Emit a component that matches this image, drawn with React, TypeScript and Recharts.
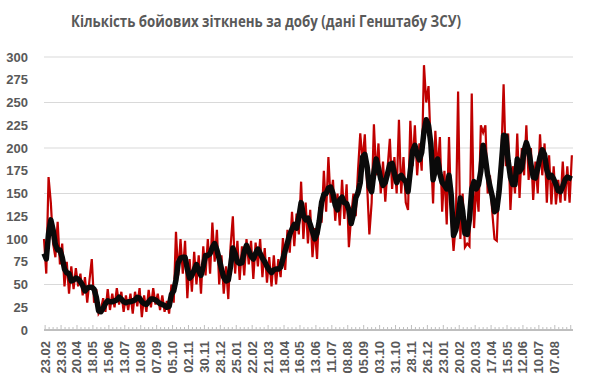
import { LineChart, Line, XAxis, YAxis, CartesianGrid } from "recharts";

// one value every 4 days, starting 23.02
const STEP = 4;

const LABELS = [
  "23.02", "23.03", "20.04", "18.05", "15.06", "13.07", "10.08", "07.09", "05.10",
  "02.11", "30.11", "28.12", "25.01", "22.02", "21.03", "18.04", "16.05", "13.06",
  "11.07", "08.08", "05.09", "03.10", "31.10", "28.11", "26.12", "23.01", "20.02",
  "20.03", "17.04", "15.05", "12.06", "10.07", "07.08",
];

const Y_TICKS = [0, 25, 50, 75, 100, 125, 150, 175, 200, 225, 250, 275, 300];

// daily number of clashes (red)
const DAILY = [
  100, 62, 168, 140, 95, 80, 119,
  72, 95, 48, 75, 40, 70, 45,
  68, 48, 62, 38, 58, 30, 55,
  78, 30, 45, 18, 22, 35, 20,
  45, 22, 40, 25, 46, 28, 42,
  20, 38, 22, 40, 18, 42, 26,
  46, 14, 38, 20, 44, 25, 46,
  28, 40, 22, 38, 20, 32, 18,
  50, 30, 108, 60, 100, 62, 98,
  35, 78, 42, 86, 50, 82, 40,
  92, 60, 100, 62, 118, 75, 110,
  50, 82, 40, 70, 34, 92, 125,
  62, 98, 55, 92, 60, 100, 72,
  98, 56, 96, 70, 100, 58, 90,
  52, 80, 48, 82, 50, 78, 58,
  101, 66, 110, 85, 130, 92, 128,
  105, 163, 100, 140, 95, 132, 80,
  112, 78, 135, 118, 175, 130, 190,
  140, 165, 120, 150, 115, 165, 122,
  160, 91, 125, 150, 125, 175, 216,
  185, 215, 160, 105, 140, 226, 170,
  205, 150, 185, 141, 178, 210, 155,
  190, 150, 231, 150, 190, 140, 132,
  230, 180, 225, 170, 205, 175, 291,
  250, 268, 200, 139, 219, 175, 212,
  130, 175, 116, 212, 125, 87, 118,
  262, 100, 150, 91, 95, 92, 260,
  112, 160, 130, 225, 217, 225, 150,
  170, 130, 100, 98, 165, 190, 270,
  180, 216, 132, 180, 150, 216, 145,
  200, 170, 225, 165, 200, 143, 185,
  150, 215, 170, 205, 140, 192, 138,
  180, 138, 165, 140, 185, 142, 180,
  140, 192,
];

// smoothed line (black)
const AVG = [
  84, 78, 106, 121, 110, 94, 88,
  88, 80, 67, 63, 62, 54, 55,
  57, 56, 53, 49, 43, 46, 47,
  47, 45, 36, 21, 20, 24, 29,
  32, 31, 31, 32, 33, 36, 34,
  31, 30, 31, 31, 32, 33, 36,
  35, 31, 29, 28, 31, 34, 34,
  33, 31, 29, 28, 27, 25, 26,
  39, 43, 55, 74, 79, 80, 80,
  67, 57, 60, 66, 72, 65, 60,
  70, 82, 82, 84, 91, 95, 88,
  78, 67, 58, 54, 55, 70, 90,
  84, 75, 73, 74, 86, 93, 87,
  81, 78, 84, 89, 84, 79, 75,
  70, 66, 63, 66, 67, 67, 69,
  78, 87, 96, 105, 111, 116, 112,
  124, 140, 126, 121, 123, 116, 108,
  100, 106, 120, 140, 149, 150, 156,
  157, 150, 137, 132, 143, 146, 140,
  139, 132, 117, 127, 145, 151, 162,
  190, 193, 180, 157, 152, 173, 188,
  178, 166, 159, 162, 172, 182, 183,
  172, 162, 168, 170, 166, 163, 152,
  175, 197, 203, 193, 187, 195, 218,
  231, 225, 205, 165, 176, 188, 172,
  162, 159, 155, 170, 148, 104, 110,
  123, 145, 131, 106, 105, 122, 155,
  163, 155, 160, 175, 203, 189, 170,
  158, 147, 130, 132, 152, 182, 214,
  213, 186, 168, 160, 160, 188, 174,
  178, 197, 206, 198, 182, 168, 167,
  178, 190, 198, 193, 176, 168, 170,
  166, 160, 153, 152, 158, 165, 168,
  167, 166,
];

const FIRST_DAY = 2;
const MINOR = 7;
const X_TICKS = Array.from({ length: 133 }, (_, k) => FIRST_DAY + k * MINOR);

const data = AVG.map((a, i) => ({ day: i * STEP, daily: DAILY[i], avg: a }));

const FONT = '"Liberation Sans", Arial, sans-serif';

function DayTick({ x, y, payload }: any) {
  const k = Math.round((payload.value - FIRST_DAY) / MINOR);
  const major = k % 4 === 0;
  const label = major ? LABELS[k / 4] : null;
  return (
    <g>
      <line x1={x} x2={x} y1={y - 1} y2={y - (major ? 5 : 3)} stroke="#bfbfbf" strokeWidth={1} />
      {label && (
        <text
          transform={`translate(${x},${y + 11}) rotate(-90)`}
          textAnchor="end"
          dominantBaseline="central"
          fontFamily={FONT}
          fontSize={13}
          fontWeight="bold"
          fill="#595959"
        >
          {label}
        </text>
      )}
    </g>
  );
}

export default function App() {
  return (
    <div style={{ position: "absolute", left: 0, top: 0, width: 590, height: 375, background: "#fff" }}>
      <svg width={590} height={40} style={{ position: "absolute", left: 0, top: 0 }}>
        <text
          x={266}
          y={27}
          textAnchor="middle"
          fontFamily='"Open Sans", Lato, sans-serif'
          fontSize={16}
          fontWeight="bold"
          fill="#595959"
          textLength={390}
          lengthAdjust="spacingAndGlyphs"
        >
          Кількість бойових зіткнень за добу (дані Генштабу ЗСУ)
        </text>
      </svg>
      <LineChart width={590} height={375} data={data} margin={{ top: 57, right: 17, bottom: 0, left: 0 }}>
        <CartesianGrid vertical={false} stroke="#d9d9d9" />
        <XAxis
          dataKey="day"
          type="number"
          domain={[0, 930]}
          ticks={X_TICKS}
          interval={0}
          tickSize={0}
          tickMargin={0}
          tickLine={false}
          tick={<DayTick />}
          height={45}
          axisLine={{ stroke: "#bfbfbf", strokeWidth: 2 }}
        />
        <YAxis
          domain={[0, 300]}
          ticks={Y_TICKS}
          width={44}
          axisLine={false}
          tickLine={false}
          tickSize={0}
          tickMargin={16}
          tick={{ fontFamily: FONT, fontSize: 13, fontWeight: "bold", fill: "#595959" }}
        />
        <Line
          type="linear"
          dataKey="daily"
          stroke="#c00000"
          strokeWidth={2.2}
          dot={false}
          isAnimationActive={false}
        />
        <Line
          type="linear"
          dataKey="avg"
          stroke="#0a0a0a"
          strokeWidth={5.5}
          strokeLinejoin="round"
          dot={false}
          isAnimationActive={false}
        />
      </LineChart>
    </div>
  );
}
